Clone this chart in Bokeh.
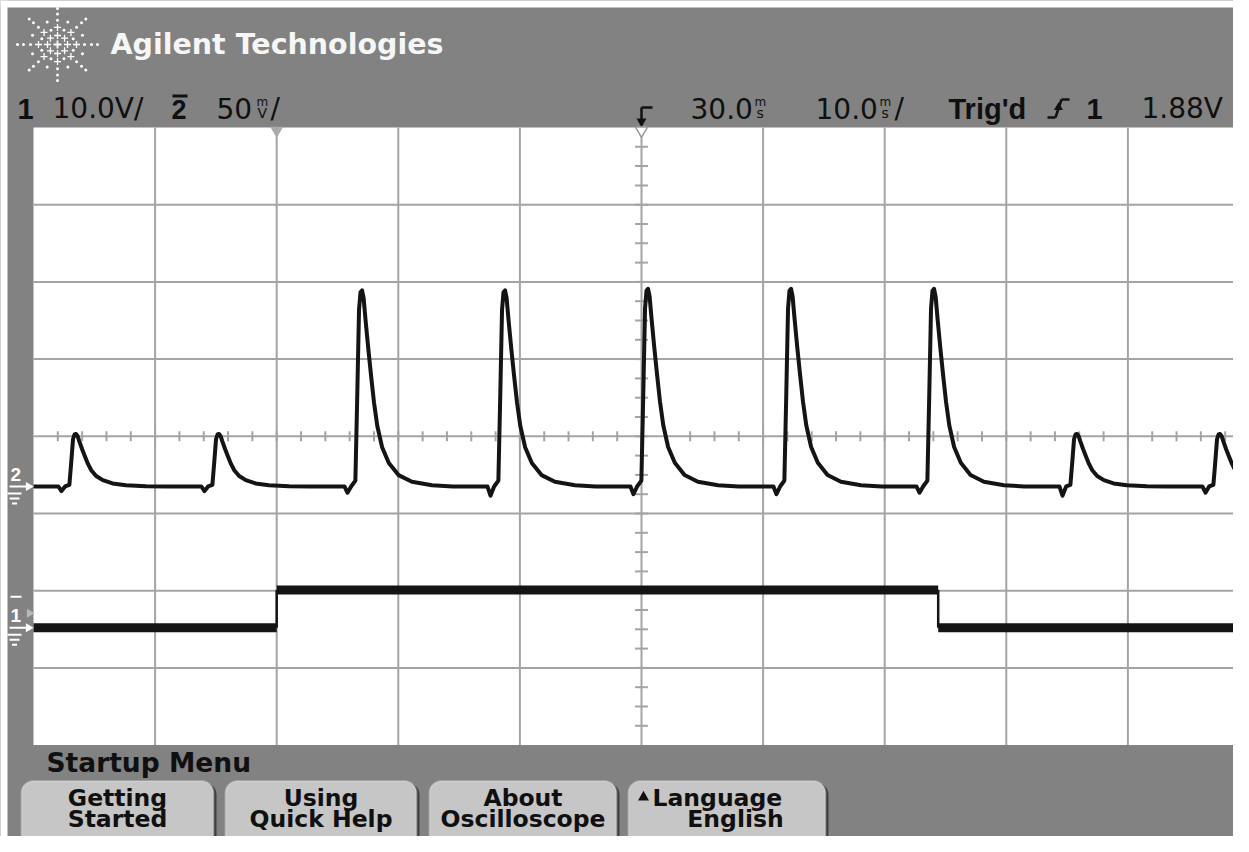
import math
from bokeh.plotting import figure
from bokeh.models import Range1d, BoxAnnotation
from bokeh.core.properties import value
from bokeh.embed import file_html
from bokeh.resources import INLINE

ms_per_div = 10.0            # 10.0 ms/div
delay_ms = 30.0              # time at the screen centre
trigger_ms = 0.0
ch1_v_per_div = 10.0         # 10.0 V/div
ch2_mv_per_div = 50.0        # 50 mV/div
ch1_ground_div = -2.48       # ground markers (divisions from screen centre)
ch2_ground_div = -0.65
trigger_level_v = 1.88

# channel 1: square wave
ch1_edge_ms = [-20.0, 0.0, 54.4, 80.0]
ch1_level_v = [0.0, 4.9, 0.0]

# channel 2: pulse train
ch2_peak_ms = [-16.55, -4.79, 6.97, 18.73, 30.49, 42.25, 54.01, 65.77, 77.53]
ch2_peak_mv = [34, 34, 127, 127, 128, 128, 128, 34, 34]
ch2_dip_mv = [3, 3, 4, 6, 5, 5, 4, 6, 4]
# one pulse: ms from the peak, fraction of the peak
pulse_dt_ms = [-0.5, -0.35, -0.2, -0.08, 0.05, 0.18, 0.32, 0.55, 0.8, 1.03, 1.3,
               1.7, 2.25, 3.05, 4.15, 5.8, 7.5]
pulse_frac = [0.03, 0.45, 0.9, 0.99, 1.0, 0.96, 0.86, 0.71, 0.56, 0.43, 0.31,
              0.20, 0.12, 0.058, 0.024, 0.006, 0.0]
dip_dt_ms = [-1.4, -1.15, -0.85]

header_text = "Agilent Technologies"
menu_title = "Startup Menu"
button_lines = [("Getting", "Started"), ("Using", "Quick Help"),
                ("About", "Oscilloscope"), ("Language", "English")]

# ---------------- page geometry (reference pixels, 1:1) ----------------
GRAY = "#828282"
GRID = "#a4a4a4"
TRACE = "#141414"
INK = "#101010"
PX_DIV_X, PX_DIV_Y = 121.6, 77.2
SCR_LEFT, SCR_MID_Y = 33.0, 435.8
W, H = 1233, 836


def X(px):
    return -20 + (px - SCR_LEFT) / PX_DIV_X * ms_per_div


def Y(py):
    return (SCR_MID_Y - py) / PX_DIV_Y


def YM(py):
    # menu strip below the screen, squeezed to fit the page height
    return Y(744 + (py - 744) * 0.85)


def PY(div):
    return SCR_MID_Y - div * PX_DIV_Y


p = figure(width=W, height=H, x_range=Range1d(X(0), X(W)),
           y_range=Range1d(Y(H), Y(0)), output_backend="svg",
           toolbar_location=None, min_border=0, x_axis_location=None,
           y_axis_location=None)
p.grid.visible = False
p.outline_line_color = None
p.background_fill_color = GRAY
p.border_fill_color = GRAY

t_left = delay_ms - 5 * ms_per_div
t_right = delay_ms + 5 * ms_per_div

# white page strips at the top and left of the photo
p.quad(left=[X(0), X(0)], right=[X(7), X(W + 20)], bottom=[Y(H + 20), Y(7)],
       top=[Y(0), Y(0)], fill_color="white", line_color=None)

# screen
p.quad(left=[t_left], right=[t_right], bottom=[-4], top=[4],
       fill_color="white", line_color=None)
grid_t = [t_left + k * ms_per_div for k in range(1, 10)]
p.segment(x0=grid_t, y0=-4, x1=grid_t, y1=4, line_color=GRID, line_width=2)
grid_d = [k for k in range(-3, 4)]
p.segment(x0=t_left, y0=grid_d, x1=t_right, y1=grid_d, line_color=GRID, line_width=2)
tick_t = [t_left + k * ms_per_div / 5 for k in range(1, 50)]
p.segment(x0=tick_t, y0=-0.065, x1=tick_t, y1=0.065, line_color=GRID, line_width=2)
tick_d = [-4 + k * 0.25 for k in range(1, 32)]
p.segment(x0=delay_ms - 0.53, y0=tick_d, x1=delay_ms + 0.53, y1=tick_d,
          line_color=GRID, line_width=2)

# channel 1
lv = [ch1_ground_div + v / ch1_v_per_div for v in ch1_level_v]
p.segment(x0=ch1_edge_ms[:-1], x1=ch1_edge_ms[1:], y0=lv, y1=lv,
          line_color=TRACE, line_width=9)
p.segment(x0=ch1_edge_ms[1:-1], x1=ch1_edge_ms[1:-1], y0=lv[:-1], y1=lv[1:],
          line_color=TRACE, line_width=2.5)

# channel 2
t2, v2 = [t_left], [0.0]
for pk, amp, dip in zip(ch2_peak_ms, ch2_peak_mv, ch2_dip_mv):
    t2 += [pk + d for d in dip_dt_ms]
    v2 += [0.0, -dip, 0.0]
    t2 += [pk + d for d in pulse_dt_ms]
    v2 += [amp * f for f in pulse_frac]
if t2[-1] < t_right:
    t2.append(t_right)
    v2.append(0.0)
y2 = [ch2_ground_div + v / ch2_mv_per_div for v in v2]
p.line(t2, y2, line_color=TRACE, line_width=4, line_join="round")


def txt(px, yd, s, size, color=INK, font="DejaVu Sans", style="normal",
        align="left"):
    p.text(x=[X(px)], y=[yd], text=[s], text_font=value(font),
           text_font_size=f"{size:.1f}px", text_font_style=style,
           text_color=color, text_align=align, text_baseline="middle")


def seg(x0, y0, x1, y1, color=INK, width=2.5):
    p.segment(x0=[X(x0)], y0=[Y(y0)], x1=[X(x1)], y1=[Y(y1)],
              line_color=color, line_width=width)


# header logo
cx, cy = 57, 44
cxs, cys, dxs, dys = [], [], [], []
for k in range(8):
    a = k * math.pi / 4
    for r in (10, 19):
        cxs.append(X(cx + r * math.cos(a)))
        cys.append(Y(cy + 0.9 * r * math.sin(a)))
    for r in (27, 34, 40):
        dxs.append(X(cx + r * math.cos(a)))
        dys.append(Y(cy + 0.9 * r * math.sin(a)))
    a2 = a + math.pi / 8
    for r in (17, 27):
        dxs.append(X(cx + r * math.cos(a2)))
        dys.append(Y(cy + 0.9 * r * math.sin(a2)))
p.scatter(x=[X(cx)], y=[Y(cy)], marker="cross", size=8, line_color="white", line_width=1.8)
p.scatter(x=cxs, y=cys, marker="cross", size=7, line_color="white", line_width=1.3)
p.scatter(x=dxs, y=dys, marker="circle", size=3, fill_color="white", line_color=None)
txt(110, Y(44), header_text, 28.5, color="#f6f6f6", style="bold")

# status line
CY = 108
txt(17, Y(CY), "1", 29, font="Liberation Sans", style="bold")
txt(52, Y(CY), f"{ch1_v_per_div:.1f}V/", 28)
txt(171, Y(CY + 1), "2", 27, font="Liberation Sans", style="bold")
seg(172, 95.5, 187, 95.5, width=3)
txt(216, Y(CY), f"{ch2_mv_per_div:.0f}", 28)
txt(256, Y(101), "m", 12)
txt(257, Y(112), "V", 14)
txt(270, Y(CY), "/", 28)
txt(690, Y(CY), f"{delay_ms:.1f}", 28)
txt(754, Y(101), "m", 12)
txt(756, Y(112), "s", 14)
txt(815, Y(CY), f"{ms_per_div:.1f}", 28)
txt(879, Y(101), "m", 12)
txt(881, Y(112), "s", 14)
txt(894, Y(CY), "/", 28)
txt(948, Y(CY), "Trig'd", 29, font="Liberation Sans", style="bold")
txt(1086, Y(CY), "1", 29, font="Liberation Sans", style="bold")
txt(1141, Y(CY), f"{trigger_level_v:.2f}V", 28)
# edge symbol
seg(1047, 117, 1055, 117)
seg(1055, 117, 1061, 99)
seg(1061, 99, 1069, 99)
p.scatter(x=[X(1058)], y=[Y(107)], marker="triangle", size=9, fill_color=INK, line_color=None)
# delay arrow and screen-top markers
dx = 641
seg(dx, 107, dx + 11, 107)
seg(dx, 107, dx, 119)
p.scatter(x=[delay_ms], y=[Y(121)], marker="inverted_triangle", size=10,
          fill_color=INK, line_color=None)
p.scatter(x=[delay_ms], y=[Y(130)], marker="inverted_triangle", size=12,
          fill_color="white", line_color="#9a9a9a", line_width=1.5)
p.scatter(x=[trigger_ms], y=[Y(130)], marker="inverted_triangle", size=13,
          fill_color="#ababab", line_color=None)


# left channel markers
def ground_marker(ydiv, label):
    py = PY(ydiv)
    txt(10, Y(py - 12), label, 19, color="white", font="Liberation Sans", style="bold")
    seg(9, py, 26, py, color="white", width=2)
    p.scatter(x=[X(28)], y=[ydiv], marker="triangle", angle=-math.pi / 2,
              size=9, fill_color="white", line_color=None)
    for dy, hw in ((7, 7), (12, 5), (17, 2.5)):
        seg(14 - hw, py + dy, 14 + hw, py + dy, color="white", width=2)


ground_marker(ch2_ground_div, "2")
ground_marker(ch1_ground_div, "1")
seg(10, PY(ch1_ground_div) - 31, 21, PY(ch1_ground_div) - 31, color="white", width=2)
p.scatter(x=[X(29)], y=[ch1_ground_div + trigger_level_v / ch1_v_per_div],
          marker="triangle", angle=-math.pi / 2, size=9, fill_color="#b8b8b8",
          line_color=None)

# menu
txt(46, YM(765), menu_title, 26.5, style="bold")
buttons = [(21, 213), (225, 416), (429, 616), (628, 825)]
for (l, r), (l1, l2) in zip(buttons, button_lines):
    sh = BoxAnnotation(left=X(l + 3), right=X(r + 3), top=YM(789), bottom=Y(920),
                       fill_color="#3e3e3e", fill_alpha=1, line_color=None,
                       border_radius=12, level="underlay")
    bx = BoxAnnotation(left=X(l), right=X(r), top=YM(787), bottom=Y(920),
                       fill_color="#c6c6c6", fill_alpha=1, line_color="#ececec",
                       line_width=2, border_radius=12, level="underlay")
    p.add_layout(sh)
    p.add_layout(bx)
    c = (l + r) / 2
    if l1 == "Language":
        p.scatter(x=[X(643)], y=[YM(806)], marker="triangle", size=11,
                  fill_color=INK, line_color=None)
        txt(652, YM(807), l1, 23.5, style="bold")
        txt(735, Y(818), l2, 23.5, style="bold", align="center")
    else:
        txt(c, YM(807), l1, 23.5, style="bold", align="center")
        txt(c, Y(818), l2, 23.5, style="bold", align="center")

open("out.html", "w").write(file_html(p, INLINE))
